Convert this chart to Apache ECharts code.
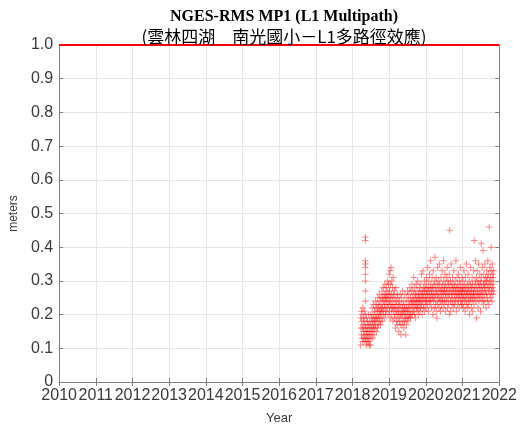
<!DOCTYPE html>
<html>
<head>
<meta charset="utf-8">
<script src="https://cdn.jsdelivr.net/npm/echarts@6/dist/echarts.min.js"></script>
<style>
  html, body { margin: 0; padding: 0; background: #fff; }
  #chart { width: 520px; height: 430px; }
</style>
</head>
<body>
<div id="chart"></div>
<script>
// Chart texts
const titleMain = 'NGES-RMS MP1 (L1 Multipath)';
const titleSub = '(雲林四湖　南光國小－L1多路徑效應)';
const xAxisName = 'Year';
const yAxisName = 'meters';

// Axis ranges / tick steps
const yearMin = 2010, yearMax = 2022, yearStep = 1;
const rmsMin = 0, rmsMax = 1.0, rmsStep = 0.1;

// Threshold line drawn across the top of the plot (meters)
const thresholdLevel = 1.0;

// Daily L1 multipath RMS, [decimal year, meters]
const mp1_2018 = [
  [2018.22,0.11],[2018.22,0.19],[2018.23,0.16],[2018.24,0.21],[2018.24,0.14],[2018.25,0.18],
  [2018.26,0.13],[2018.26,0.20],[2018.27,0.16],[2018.28,0.22],[2018.28,0.12],[2018.29,0.17],
  [2018.30,0.15],[2018.30,0.19],[2018.31,0.13],[2018.32,0.18],[2018.32,0.21],[2018.33,0.14],
  [2018.34,0.16],[2018.34,0.12],
  [2018.35,0.43],[2018.35,0.42],[2018.35,0.36],[2018.35,0.35],[2018.35,0.34],[2018.35,0.32],
  [2018.35,0.30],[2018.35,0.27],[2018.35,0.24],[2018.35,0.20],
  [2018.36,0.13],[2018.36,0.17],[2018.37,0.15],[2018.38,0.11],[2018.38,0.19],[2018.39,0.14],
  [2018.40,0.16],[2018.40,0.12],[2018.41,0.18],[2018.42,0.13],[2018.42,0.15],[2018.43,0.17],
  [2018.44,0.12],[2018.44,0.20],[2018.45,0.14],[2018.46,0.16],[2018.46,0.11],[2018.47,0.18],
  [2018.48,0.13],[2018.48,0.15],[2018.49,0.11],[2018.50,0.17],[2018.50,0.20],[2018.51,0.14],
  [2018.52,0.19],[2018.52,0.16],[2018.53,0.22],[2018.54,0.15],[2018.54,0.18],[2018.55,0.13],
  [2018.56,0.20],[2018.56,0.17],[2018.57,0.23],[2018.58,0.16],[2018.58,0.19],[2018.59,0.14],
  [2018.60,0.21],[2018.60,0.18],[2018.61,0.16],[2018.62,0.24],[2018.62,0.19],[2018.63,0.17],
  [2018.64,0.20],[2018.64,0.22],[2018.65,0.15],[2018.66,0.19],[2018.66,0.23],[2018.67,0.18],
  [2018.68,0.21],[2018.68,0.16],[2018.69,0.25],[2018.70,0.19],[2018.70,0.22],[2018.71,0.17],
  [2018.72,0.23],[2018.72,0.20],[2018.73,0.26],[2018.74,0.18],[2018.74,0.21],[2018.75,0.24],
  [2018.76,0.20],[2018.76,0.17],[2018.77,0.22],[2018.78,0.25],[2018.78,0.19],[2018.79,0.21],
  [2018.80,0.27],[2018.80,0.23],[2018.81,0.18],[2018.82,0.22],[2018.82,0.25],[2018.83,0.20],
  [2018.84,0.24],[2018.84,0.28],[2018.85,0.21],[2018.86,0.26],[2018.86,0.19],[2018.87,0.23],
  [2018.88,0.25],[2018.88,0.29],[2018.89,0.22],[2018.90,0.20],[2018.90,0.26],[2018.91,0.24],
  [2018.92,0.28],[2018.92,0.21],[2018.93,0.25],[2018.94,0.23],[2018.94,0.27],[2018.95,0.30],
  [2018.96,0.22],[2018.96,0.25],[2018.97,0.20],[2018.98,0.26],[2018.98,0.29],[2018.99,0.23]
];

const mp1_2019 = [
  [2019.00,0.24],[2019.00,0.32],[2019.01,0.27],[2019.01,0.21],[2019.02,0.33],[2019.03,0.25],
  [2019.03,0.19],[2019.04,0.29],[2019.04,0.23],[2019.05,0.34],[2019.06,0.22],[2019.06,0.26],
  [2019.07,0.30],[2019.07,0.20],[2019.08,0.24],[2019.09,0.28],[2019.09,0.22],[2019.10,0.25],
  [2019.10,0.18],[2019.11,0.31],[2019.12,0.21],[2019.12,0.26],[2019.13,0.23],[2019.14,0.19],
  [2019.14,0.27],[2019.15,0.22],[2019.16,0.25],[2019.16,0.20],[2019.17,0.16],[2019.18,0.23],
  [2019.18,0.28],[2019.19,0.21],[2019.20,0.18],[2019.20,0.24],[2019.21,0.20],[2019.22,0.26],
  [2019.22,0.17],[2019.23,0.22],[2019.24,0.19],[2019.24,0.25],[2019.25,0.21],[2019.26,0.15],
  [2019.26,0.23],[2019.27,0.20],[2019.28,0.24],[2019.28,0.18],[2019.29,0.22],[2019.30,0.17],
  [2019.30,0.26],[2019.31,0.20],[2019.32,0.23],[2019.32,0.14],[2019.33,0.19],[2019.34,0.21],
  [2019.34,0.25],[2019.35,0.17],[2019.36,0.22],[2019.36,0.20],[2019.37,0.27],[2019.38,0.18],
  [2019.38,0.23],[2019.39,0.21],[2019.40,0.16],[2019.40,0.24],[2019.41,0.20],[2019.42,0.22],
  [2019.42,0.18],[2019.43,0.26],[2019.44,0.19],[2019.44,0.21],[2019.45,0.14],[2019.46,0.23],
  [2019.46,0.20],[2019.47,0.17],[2019.48,0.25],[2019.48,0.22],[2019.49,0.19],[2019.50,0.21],
  [2019.50,0.27],[2019.51,0.18],[2019.52,0.24],[2019.52,0.20],[2019.53,0.22],[2019.54,0.26],
  [2019.54,0.19],[2019.55,0.23],[2019.56,0.20],[2019.56,0.28],[2019.57,0.21],[2019.58,0.25],
  [2019.58,0.19],[2019.59,0.23],[2019.60,0.27],[2019.60,0.20],[2019.61,0.24],[2019.62,0.22],
  [2019.62,0.29],[2019.63,0.20],[2019.64,0.25],[2019.64,0.23],[2019.65,0.27],[2019.66,0.21],
  [2019.66,0.24],[2019.67,0.31],[2019.68,0.22],[2019.68,0.26],[2019.69,0.20],[2019.70,0.24],
  [2019.70,0.28],[2019.71,0.23],[2019.72,0.19],[2019.72,0.26],[2019.73,0.25],[2019.74,0.22],
  [2019.74,0.29],[2019.75,0.24],[2019.76,0.27],[2019.76,0.21],[2019.77,0.23],[2019.78,0.30],
  [2019.78,0.25],[2019.79,0.22],[2019.80,0.26],[2019.80,0.20],[2019.81,0.24],[2019.82,0.28],
  [2019.82,0.23],[2019.83,0.25],[2019.84,0.21],[2019.84,0.27],[2019.85,0.24],[2019.86,0.29],
  [2019.86,0.22],[2019.87,0.26],[2019.88,0.23],[2019.88,0.32],[2019.89,0.25],[2019.90,0.20],
  [2019.90,0.27],[2019.91,0.24],[2019.92,0.33],[2019.92,0.26],[2019.93,0.22],[2019.94,0.28],
  [2019.94,0.25],[2019.95,0.23],[2019.96,0.27],[2019.96,0.30],[2019.97,0.21],[2019.98,0.25],
  [2019.98,0.28],[2019.99,0.24]
];

const mp1_2020 = [
  [2020.00,0.26],[2020.00,0.22],[2020.01,0.29],[2020.02,0.24],[2020.02,0.31],[2020.03,0.27],
  [2020.04,0.23],[2020.04,0.26],[2020.05,0.34],[2020.06,0.25],[2020.06,0.28],[2020.07,0.21],
  [2020.08,0.27],[2020.08,0.30],[2020.09,0.24],[2020.10,0.32],[2020.10,0.26],[2020.11,0.23],
  [2020.12,0.28],[2020.12,0.25],[2020.13,0.36],[2020.14,0.24],[2020.14,0.29],[2020.15,0.27],
  [2020.16,0.22],[2020.16,0.26],[2020.17,0.31],[2020.18,0.25],[2020.18,0.28],[2020.19,0.20],
  [2020.20,0.27],[2020.20,0.33],[2020.21,0.24],[2020.22,0.29],[2020.22,0.26],[2020.23,0.22],
  [2020.24,0.30],[2020.24,0.25],[2020.25,0.37],[2020.26,0.23],[2020.26,0.28],[2020.27,0.26],
  [2020.28,0.31],[2020.28,0.21],[2020.29,0.27],[2020.30,0.24],[2020.30,0.19],[2020.31,0.29],
  [2020.32,0.26],[2020.32,0.34],[2020.33,0.23],[2020.34,0.28],[2020.34,0.25],[2020.35,0.30],
  [2020.36,0.22],[2020.36,0.27],[2020.37,0.35],[2020.38,0.25],[2020.38,0.29],[2020.39,0.24],
  [2020.40,0.27],[2020.40,0.21],[2020.41,0.31],[2020.42,0.26],[2020.42,0.23],[2020.43,0.28],
  [2020.44,0.33],[2020.44,0.25],[2020.45,0.24],[2020.46,0.29],[2020.46,0.27],[2020.47,0.22],
  [2020.48,0.26],[2020.48,0.36],[2020.49,0.30],[2020.50,0.24],[2020.50,0.27],[2020.51,0.28],
  [2020.52,0.23],[2020.52,0.32],[2020.53,0.26],[2020.54,0.29],[2020.54,0.21],[2020.55,0.25],
  [2020.56,0.31],[2020.56,0.27],[2020.57,0.24],[2020.58,0.28],[2020.58,0.34],[2020.59,0.22],
  [2020.60,0.26],[2020.60,0.30],[2020.61,0.25],[2020.62,0.29],[2020.62,0.23],[2020.63,0.27],
  [2020.64,0.32],[2020.64,0.20],[2020.65,0.45],[2020.65,0.26],[2020.66,0.28],[2020.67,0.24],
  [2020.67,0.30],[2020.68,0.21],[2020.69,0.27],[2020.69,0.35],[2020.70,0.25],[2020.71,0.29],
  [2020.71,0.23],[2020.72,0.26],[2020.73,0.31],[2020.73,0.28],[2020.74,0.24],[2020.75,0.27],
  [2020.75,0.22],[2020.76,0.33],[2020.77,0.26],[2020.77,0.29],[2020.78,0.23],[2020.79,0.28],
  [2020.79,0.25],[2020.80,0.30],[2020.81,0.24],[2020.81,0.27],[2020.82,0.36],[2020.83,0.26],
  [2020.83,0.21],[2020.84,0.28],[2020.85,0.25],[2020.85,0.31],[2020.86,0.23],[2020.87,0.27],
  [2020.87,0.29],[2020.88,0.26],[2020.89,0.32],[2020.89,0.24],[2020.90,0.28],[2020.91,0.22],
  [2020.91,0.26],[2020.92,0.30],[2020.93,0.25],[2020.93,0.27],[2020.94,0.34],[2020.95,0.24],
  [2020.95,0.29],[2020.96,0.27],[2020.97,0.23],[2020.97,0.26],[2020.98,0.31],[2020.99,0.25],
  [2020.99,0.28]
];

const mp1_2021 = [
  [2021.00,0.27],[2021.00,0.23],[2021.01,0.30],[2021.02,0.25],[2021.02,0.28],[2021.03,0.22],
  [2021.04,0.26],[2021.04,0.33],[2021.05,0.24],[2021.06,0.29],[2021.06,0.27],[2021.07,0.21],
  [2021.08,0.25],[2021.08,0.31],[2021.09,0.28],[2021.10,0.23],[2021.10,0.26],[2021.11,0.35],
  [2021.12,0.27],[2021.12,0.24],[2021.13,0.29],[2021.14,0.22],[2021.14,0.26],[2021.15,0.32],
  [2021.16,0.25],[2021.16,0.28],[2021.17,0.23],[2021.18,0.27],[2021.18,0.30],[2021.19,0.20],
  [2021.20,0.26],[2021.20,0.24],[2021.21,0.29],[2021.22,0.25],[2021.22,0.34],[2021.23,0.27],
  [2021.24,0.22],[2021.24,0.28],[2021.25,0.26],[2021.26,0.31],[2021.26,0.24],[2021.27,0.29],
  [2021.28,0.25],[2021.28,0.21],[2021.29,0.27],[2021.30,0.33],[2021.30,0.26],[2021.31,0.23],
  [2021.32,0.42],[2021.32,0.28],[2021.33,0.25],[2021.34,0.30],[2021.34,0.27],[2021.35,0.36],
  [2021.36,0.24],[2021.36,0.29],[2021.37,0.26],[2021.38,0.19],[2021.38,0.31],[2021.39,0.28],
  [2021.40,0.25],[2021.40,0.33],[2021.41,0.27],[2021.42,0.22],[2021.42,0.30],[2021.43,0.26],
  [2021.44,0.29],[2021.44,0.35],[2021.45,0.24],[2021.46,0.28],[2021.46,0.26],[2021.47,0.32],
  [2021.48,0.25],[2021.48,0.30],[2021.49,0.21],[2021.50,0.27],[2021.50,0.29],[2021.51,0.41],
  [2021.51,0.26],[2021.52,0.31],[2021.53,0.24],[2021.53,0.28],[2021.54,0.34],[2021.55,0.27],
  [2021.55,0.25],[2021.56,0.39],[2021.57,0.29],[2021.57,0.23],[2021.58,0.32],[2021.59,0.26],
  [2021.59,0.30],[2021.60,0.28],[2021.61,0.24],[2021.61,0.35],[2021.62,0.29],[2021.63,0.27],
  [2021.63,0.31],[2021.64,0.22],[2021.65,0.30],[2021.65,0.26],[2021.66,0.33],[2021.67,0.28],
  [2021.67,0.25],[2021.68,0.31],[2021.69,0.24],[2021.69,0.36],[2021.70,0.29],[2021.71,0.27],
  [2021.71,0.32],[2021.72,0.23],[2021.73,0.46],[2021.73,0.30],[2021.74,0.28],[2021.75,0.26],
  [2021.75,0.34],[2021.76,0.31],[2021.77,0.25],[2021.77,0.29],[2021.78,0.40],[2021.78,0.33],
  [2021.79,0.27],[2021.80,0.30],[2021.80,0.24],[2021.81,0.35],[2021.82,0.28],[2021.82,0.32],
  [2021.83,0.26],[2021.84,0.31],[2021.84,0.29],[2021.85,0.27],[2021.85,0.33]
];

const mp1Points = mp1_2018.concat(mp1_2019, mp1_2020, mp1_2021);
const thresholdLine = [[yearMin, thresholdLevel], [yearMax, thresholdLevel]];

// Small "+" marker as a filled outline
const plusSymbol = 'path://M4.2,0H5.8V4.2H10V5.8H5.8V10H4.2V5.8H0V4.2H4.2Z';

const axisGrey = '#7f7f7f';
const textGrey = '#3a3a3a';
const gridGrey = '#e6e6e6';
const font = 'Liberation Sans, Arial, sans-serif';

const chart = echarts.init(document.getElementById('chart'), null, { renderer: 'canvas' });

chart.setOption({
  animation: false,
  backgroundColor: '#ffffff',
  title: [
    {
      text: titleMain, left: 279, top: 4, textAlign: 'center',
      textStyle: { fontFamily: 'Liberation Serif, Times New Roman, serif', fontWeight: 'bold', fontSize: 16, color: '#000' }
    },
    {
      text: titleSub, left: 279, top: 23, textAlign: 'center',
      textStyle: { fontFamily: 'Noto Sans CJK TC, sans-serif', fontWeight: 'normal', fontSize: 17, color: '#000' }
    }
  ],
  grid: { left: 56, right: 20, top: 45, bottom: 47, containLabel: false },
  xAxis: [
    {
      type: 'value', min: yearMin, max: yearMax, interval: yearStep, position: 'bottom',
      name: xAxisName, nameLocation: 'middle', nameGap: 30,
      nameTextStyle: { fontFamily: font, fontSize: 13, color: textGrey },
      axisLine: { show: true, lineStyle: { color: axisGrey, width: 1 } },
      axisTick: { show: true, inside: true, length: 4, lineStyle: { color: axisGrey } },
      axisLabel: { fontFamily: font, fontSize: 16, color: textGrey, margin: 6, formatter: v => String(v) },
      splitLine: { show: true, lineStyle: { color: gridGrey, width: 1 } }
    },
    {
      type: 'value', min: yearMin, max: yearMax, interval: yearStep, position: 'top',
      axisLine: { show: true, lineStyle: { color: axisGrey, width: 1 } },
      axisTick: { show: true, inside: true, length: 4, lineStyle: { color: axisGrey } },
      axisLabel: { show: false },
      splitLine: { show: false }
    }
  ],
  yAxis: [
    {
      type: 'value', min: rmsMin, max: rmsMax, interval: rmsStep, position: 'left',
      name: yAxisName, nameLocation: 'middle', nameGap: 37,
      nameTextStyle: { fontFamily: font, fontSize: 12, color: textGrey },
      axisLine: { show: true, lineStyle: { color: axisGrey, width: 1 } },
      axisTick: { show: true, inside: true, length: 4, lineStyle: { color: axisGrey } },
      axisLabel: {
        fontFamily: font, fontSize: 16, color: textGrey, margin: 6,
        formatter: v => (v === 0 ? '0' : v.toFixed(1))
      },
      splitLine: { show: true, lineStyle: { color: gridGrey, width: 1 } }
    },
    {
      type: 'value', min: rmsMin, max: rmsMax, interval: rmsStep, position: 'right',
      axisLine: { show: true, lineStyle: { color: axisGrey, width: 1 } },
      axisTick: { show: true, inside: true, length: 4, lineStyle: { color: axisGrey } },
      axisLabel: { show: false },
      splitLine: { show: false }
    }
  ],
  series: [
    {
      name: 'MP1',
      type: 'scatter',
      xAxisIndex: 0, yAxisIndex: 0,
      data: mp1Points,
      symbol: plusSymbol,
      symbolSize: 6.5,
      itemStyle: { color: 'rgba(255,0,0,0.6)' },
      z: 3
    },
    {
      name: 'threshold',
      type: 'line',
      xAxisIndex: 0, yAxisIndex: 0,
      data: thresholdLine,
      symbol: 'none',
      lineStyle: { color: '#ff0000', width: 2 },
      z: 5
    }
  ]
});
</script>
</body>
</html>
